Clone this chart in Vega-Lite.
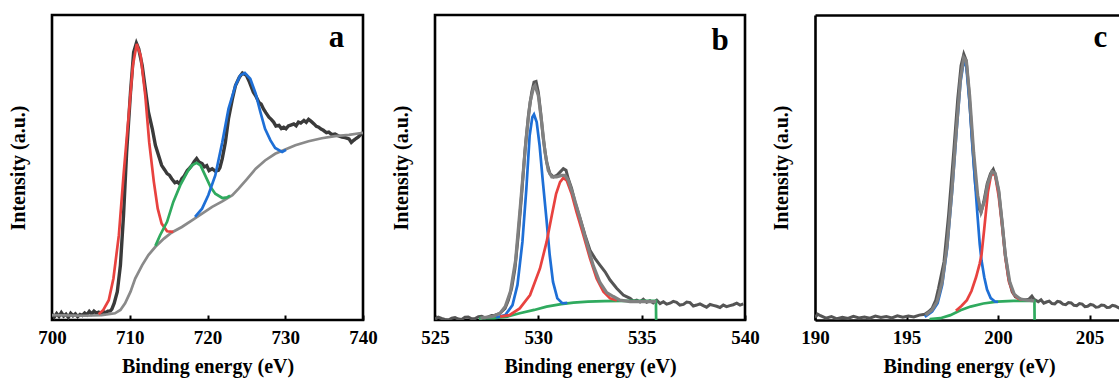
{
  "$schema": "https://vega.github.io/schema/vega-lite/v6.json",
  "padding": {"left": 6, "top": 13, "right": 0, "bottom": 0},
  "spacing": 10,
  "config": {
    "view": {"stroke": "black", "strokeWidth": 2.6},
    "font": "Liberation Serif",
    "axis": {
      "labelFont": "Liberation Serif", "titleFont": "Liberation Serif",
      "labelFontWeight": "bold", "titleFontWeight": "bold",
      "labelColor": "black", "titleColor": "black",
      "labelFontSize": 19, "titleFontSize": 20, "grid": false
    }
  },
  "resolve": {"scale": {"color": "independent"}},
  "datasets": {
    "labels": [
      {"panel": "a", "e": 736.6, "v": 89.5},
      {"panel": "b", "e": 538.8, "v": 88.4},
      {"panel": "c", "e": 205.6, "v": 89.5}
    ],
    "a": [
      {"e":700.0,"v":1.9,"curve":"raw"},{"e":700.3,"v":1.0,"curve":"raw"},{"e":700.6,"v":2.1,"curve":"raw"},{"e":700.9,"v":1.2,"curve":"raw"},{"e":701.2,"v":2.4,"curve":"raw"},{"e":701.5,"v":1.3,"curve":"raw"},{"e":701.8,"v":1.9,"curve":"raw"},{"e":702.1,"v":0.9,"curve":"raw"},{"e":702.4,"v":2.2,"curve":"raw"},{"e":702.7,"v":1.4,"curve":"raw"},{"e":703.0,"v":2.0,"curve":"raw"},{"e":703.3,"v":1.1,"curve":"raw"},{"e":703.6,"v":1.8,"curve":"raw"},{"e":703.9,"v":1.5,"curve":"raw"},{"e":704.2,"v":2.3,"curve":"raw"},{"e":704.5,"v":1.7,"curve":"raw"},{"e":704.8,"v":2.8,"curve":"raw"},{"e":705.1,"v":2.0,"curve":"raw"},{"e":705.4,"v":2.9,"curve":"raw"},{"e":705.7,"v":2.3,"curve":"raw"},{"e":706.0,"v":2.6,"curve":"raw"},{"e":706.3,"v":2.0,"curve":"raw"},{"e":706.6,"v":2.7,"curve":"raw"},{"e":706.9,"v":2.4,"curve":"raw"},{"e":707.2,"v":2.9,"curve":"raw"},{"e":707.5,"v":3.0,"curve":"raw"},{"e":707.7,"v":3.6,"curve":"raw"},{"e":708.0,"v":5.5,"curve":"raw"},{"e":708.4,"v":9.3,"curve":"raw"},{"e":708.8,"v":18,"curve":"raw"},{"e":709.2,"v":34.4,"curve":"raw"},{"e":709.6,"v":55,"curve":"raw"},{"e":710.1,"v":74.7,"curve":"raw"},{"e":710.5,"v":87.8,"curve":"raw"},{"e":710.85,"v":90.8,"curve":"raw"},{"e":711.15,"v":88.9,"curve":"raw"},{"e":711.6,"v":83.4,"curve":"raw"},{"e":712.0,"v":75.8,"curve":"raw"},{"e":712.4,"v":68.2,"curve":"raw"},{"e":712.9,"v":62.7,"curve":"raw"},{"e":713.3,"v":57.3,"curve":"raw"},{"e":713.7,"v":54,"curve":"raw"},{"e":714.1,"v":50.7,"curve":"raw"},{"e":714.5,"v":49.2,"curve":"raw"},{"e":714.8,"v":48,"curve":"raw"},{"e":715.1,"v":47.5,"curve":"raw"},{"e":715.4,"v":46.3,"curve":"raw"},{"e":715.8,"v":45.0,"curve":"raw"},{"e":716.1,"v":45.3,"curve":"raw"},{"e":716.4,"v":44.6,"curve":"raw"},{"e":716.7,"v":46.3,"curve":"raw"},{"e":717.0,"v":47.2,"curve":"raw"},{"e":717.4,"v":49,"curve":"raw"},{"e":717.7,"v":49.8,"curve":"raw"},{"e":718.0,"v":50.7,"curve":"raw"},{"e":718.3,"v":52.0,"curve":"raw"},{"e":718.6,"v":52.9,"curve":"raw"},{"e":718.9,"v":51.8,"curve":"raw"},{"e":719.3,"v":51.3,"curve":"raw"},{"e":719.6,"v":50.2,"curve":"raw"},{"e":719.9,"v":50.6,"curve":"raw"},{"e":720.2,"v":49.0,"curve":"raw"},{"e":720.6,"v":49.6,"curve":"raw"},{"e":721.0,"v":48.8,"curve":"raw"},{"e":721.4,"v":49.1,"curve":"raw"},{"e":721.6,"v":50.0,"curve":"raw"},{"e":721.9,"v":52.9,"curve":"raw"},{"e":722.3,"v":58.3,"curve":"raw"},{"e":722.7,"v":66,"curve":"raw"},{"e":723.2,"v":72.5,"curve":"raw"},{"e":723.6,"v":76.9,"curve":"raw"},{"e":724.1,"v":79.6,"curve":"raw"},{"e":724.5,"v":81,"curve":"raw"},{"e":725.0,"v":80.2,"curve":"raw"},{"e":725.4,"v":78,"curve":"raw"},{"e":725.9,"v":74.7,"curve":"raw"},{"e":726.2,"v":73.5,"curve":"raw"},{"e":726.6,"v":71.4,"curve":"raw"},{"e":726.9,"v":70.8,"curve":"raw"},{"e":727.2,"v":69.2,"curve":"raw"},{"e":727.5,"v":68.0,"curve":"raw"},{"e":727.9,"v":66.5,"curve":"raw"},{"e":728.2,"v":65.8,"curve":"raw"},{"e":728.5,"v":64.9,"curve":"raw"},{"e":728.8,"v":63.6,"curve":"raw"},{"e":729.2,"v":63.8,"curve":"raw"},{"e":729.5,"v":62.8,"curve":"raw"},{"e":729.8,"v":63.2,"curve":"raw"},{"e":730.1,"v":62.7,"curve":"raw"},{"e":730.4,"v":63.6,"curve":"raw"},{"e":730.8,"v":64.0,"curve":"raw"},{"e":731.1,"v":64.3,"curve":"raw"},{"e":731.4,"v":63.7,"curve":"raw"},{"e":731.7,"v":64.9,"curve":"raw"},{"e":732.0,"v":64.6,"curve":"raw"},{"e":732.4,"v":65.4,"curve":"raw"},{"e":732.7,"v":64.8,"curve":"raw"},{"e":733.0,"v":65.8,"curve":"raw"},{"e":733.3,"v":65.2,"curve":"raw"},{"e":733.7,"v":64.3,"curve":"raw"},{"e":734.0,"v":63.5,"curve":"raw"},{"e":734.3,"v":63.2,"curve":"raw"},{"e":734.6,"v":62.6,"curve":"raw"},{"e":734.9,"v":62.2,"curve":"raw"},{"e":735.3,"v":61.4,"curve":"raw"},{"e":735.6,"v":61.6,"curve":"raw"},{"e":736.0,"v":60.8,"curve":"raw"},{"e":736.4,"v":61,"curve":"raw"},{"e":736.8,"v":60.4,"curve":"raw"},{"e":737.3,"v":60,"curve":"raw"},{"e":737.7,"v":59.8,"curve":"raw"},{"e":738.2,"v":59.4,"curve":"raw"},{"e":738.5,"v":58.2,"curve":"raw"},{"e":738.8,"v":58.9,"curve":"raw"},{"e":739.1,"v":59.5,"curve":"raw"},{"e":739.4,"v":60,"curve":"raw"},{"e":739.7,"v":60.8,"curve":"raw"},{"e":740.0,"v":61.4,"curve":"raw"},
      {"e":700,"v":1.6,"curve":"background"},{"e":704.3,"v":1.4,"curve":"background"},{"e":706.4,"v":1.6,"curve":"background"},{"e":708.1,"v":2.2,"curve":"background"},{"e":708.8,"v":3.3,"curve":"background"},{"e":709.4,"v":5.5,"curve":"background"},{"e":710.1,"v":9.3,"curve":"background"},{"e":710.7,"v":13.6,"curve":"background"},{"e":711.6,"v":18,"curve":"background"},{"e":712.4,"v":21.3,"curve":"background"},{"e":713.3,"v":24,"curve":"background"},{"e":714.4,"v":26.7,"curve":"background"},{"e":715.4,"v":28.7,"curve":"background"},{"e":716.7,"v":30.5,"curve":"background"},{"e":718.0,"v":32.7,"curve":"background"},{"e":719.3,"v":34.9,"curve":"background"},{"e":720.6,"v":37.1,"curve":"background"},{"e":721.9,"v":38.9,"curve":"background"},{"e":723.2,"v":40.9,"curve":"background"},{"e":724.0,"v":43.1,"curve":"background"},{"e":725.1,"v":46.3,"curve":"background"},{"e":726.2,"v":49.6,"curve":"background"},{"e":727.4,"v":52.3,"curve":"background"},{"e":728.7,"v":54.5,"curve":"background"},{"e":730.0,"v":55.9,"curve":"background"},{"e":731.3,"v":57.3,"curve":"background"},{"e":733.0,"v":58.6,"curve":"background"},{"e":734.7,"v":59.6,"curve":"background"},{"e":736.4,"v":60.3,"curve":"background"},{"e":738.2,"v":60.7,"curve":"background"},{"e":740,"v":61.4,"curve":"background"},
      {"e":706.0,"v":1.9,"curve":"peak 1"},{"e":706.6,"v":3.3,"curve":"peak 1"},{"e":707.3,"v":6.5,"curve":"peak 1"},{"e":707.9,"v":13.6,"curve":"peak 1"},{"e":708.6,"v":27.8,"curve":"peak 1"},{"e":709.2,"v":47.4,"curve":"peak 1"},{"e":709.9,"v":68.2,"curve":"peak 1"},{"e":710.4,"v":83.4,"curve":"peak 1"},{"e":710.9,"v":90.5,"curve":"peak 1"},{"e":711.4,"v":86.7,"curve":"peak 1"},{"e":712.0,"v":73.6,"curve":"peak 1"},{"e":712.5,"v":58.3,"curve":"peak 1"},{"e":713.1,"v":45.3,"curve":"peak 1"},{"e":713.6,"v":36.5,"curve":"peak 1"},{"e":714.1,"v":31.6,"curve":"peak 1"},{"e":714.8,"v":29.1,"curve":"peak 1"},{"e":715.6,"v":28.9,"curve":"peak 1"},
      {"e":713.3,"v":24.3,"curve":"peak 2"},{"e":713.9,"v":27.8,"curve":"peak 2"},{"e":714.8,"v":32.2,"curve":"peak 2"},{"e":715.6,"v":38.7,"curve":"peak 2"},{"e":716.5,"v":44.2,"curve":"peak 2"},{"e":717.4,"v":48.5,"curve":"peak 2"},{"e":718.0,"v":50.7,"curve":"peak 2"},{"e":718.6,"v":51.5,"curve":"peak 2"},{"e":719.1,"v":50.7,"curve":"peak 2"},{"e":719.7,"v":47.4,"curve":"peak 2"},{"e":720.4,"v":43.6,"curve":"peak 2"},{"e":721.0,"v":41.4,"curve":"peak 2"},{"e":721.9,"v":40.0,"curve":"peak 2"},{"e":722.5,"v":40.2,"curve":"peak 2"},{"e":722.9,"v":40.8,"curve":"peak 2"},
      {"e":718.4,"v":33.8,"curve":"peak 3"},{"e":719.3,"v":36.5,"curve":"peak 3"},{"e":720.1,"v":40.9,"curve":"peak 3"},{"e":721.0,"v":47.4,"curve":"peak 3"},{"e":721.9,"v":58.3,"curve":"peak 3"},{"e":722.7,"v":69.2,"curve":"peak 3"},{"e":723.6,"v":76.9,"curve":"peak 3"},{"e":724.2,"v":80.2,"curve":"peak 3"},{"e":724.8,"v":81,"curve":"peak 3"},{"e":725.5,"v":79.1,"curve":"peak 3"},{"e":726.2,"v":74.2,"curve":"peak 3"},{"e":726.8,"v":68.2,"curve":"peak 3"},{"e":727.4,"v":62.7,"curve":"peak 3"},{"e":728.1,"v":58.9,"curve":"peak 3"},{"e":728.7,"v":56.4,"curve":"peak 3"},{"e":729.6,"v":55.1,"curve":"peak 3"},{"e":730.1,"v":55.8,"curve":"peak 3"}
    ],
    "b": [
      {"e":525.0,"v":0.3,"curve":"raw"},{"e":525.16,"v":0.9,"curve":"raw"},{"e":525.32,"v":0.5,"curve":"raw"},{"e":525.48,"v":0.2,"curve":"raw"},{"e":525.65,"v":0.0,"curve":"raw"},{"e":525.81,"v":0.6,"curve":"raw"},{"e":525.97,"v":0.8,"curve":"raw"},{"e":526.13,"v":0.3,"curve":"raw"},{"e":526.29,"v":0.2,"curve":"raw"},{"e":526.45,"v":0.9,"curve":"raw"},{"e":526.61,"v":1.0,"curve":"raw"},{"e":526.77,"v":0.4,"curve":"raw"},{"e":526.94,"v":0.5,"curve":"raw"},{"e":527.1,"v":1.1,"curve":"raw"},{"e":527.26,"v":1.2,"curve":"raw"},{"e":527.42,"v":0.7,"curve":"raw"},{"e":527.58,"v":1.0,"curve":"raw"},{"e":527.74,"v":1.5,"curve":"raw"},{"e":527.9,"v":1.6,"curve":"raw"},{"e":528.15,"v":2.2,"curve":"raw"},{"e":528.39,"v":3.8,"curve":"raw"},{"e":528.55,"v":6.5,"curve":"raw"},{"e":528.71,"v":10.4,"curve":"raw"},{"e":528.87,"v":16.9,"curve":"raw"},{"e":529.03,"v":27.8,"curve":"raw"},{"e":529.19,"v":40.9,"curve":"raw"},{"e":529.35,"v":55.1,"curve":"raw"},{"e":529.52,"v":67.1,"curve":"raw"},{"e":529.68,"v":74.7,"curve":"raw"},{"e":529.79,"v":78,"curve":"raw"},{"e":529.89,"v":78.2,"curve":"raw"},{"e":530.0,"v":74.7,"curve":"raw"},{"e":530.11,"v":68.2,"curve":"raw"},{"e":530.24,"v":59.4,"curve":"raw"},{"e":530.4,"v":51.8,"curve":"raw"},{"e":530.56,"v":48,"curve":"raw"},{"e":530.73,"v":46.9,"curve":"raw"},{"e":530.89,"v":47.4,"curve":"raw"},{"e":531.05,"v":48.5,"curve":"raw"},{"e":531.21,"v":49.6,"curve":"raw"},{"e":531.34,"v":49.1,"curve":"raw"},{"e":531.45,"v":46.3,"curve":"raw"},{"e":531.61,"v":43.1,"curve":"raw"},{"e":531.77,"v":38.7,"curve":"raw"},{"e":532.02,"v":33.3,"curve":"raw"},{"e":532.26,"v":27.8,"curve":"raw"},{"e":532.5,"v":22.9,"curve":"raw"},{"e":532.74,"v":20.2,"curve":"raw"},{"e":532.98,"v":18,"curve":"raw"},{"e":533.23,"v":15.8,"curve":"raw"},{"e":533.47,"v":13.1,"curve":"raw"},{"e":533.79,"v":10.4,"curve":"raw"},{"e":534.11,"v":8.2,"curve":"raw"},{"e":534.44,"v":7.1,"curve":"raw"},{"e":534.6,"v":6.2,"curve":"raw"},{"e":534.76,"v":6.5,"curve":"raw"},{"e":534.92,"v":5.9,"curve":"raw"},{"e":535.08,"v":6.8,"curve":"raw"},{"e":535.24,"v":5.8,"curve":"raw"},{"e":535.4,"v":6.3,"curve":"raw"},{"e":535.56,"v":5.6,"curve":"raw"},{"e":535.73,"v":6.5,"curve":"raw"},{"e":535.89,"v":5.4,"curve":"raw"},{"e":536.05,"v":6.0,"curve":"raw"},{"e":536.21,"v":5.2,"curve":"raw"},{"e":536.37,"v":5.5,"curve":"raw"},{"e":536.53,"v":6.1,"curve":"raw"},{"e":536.69,"v":5.8,"curve":"raw"},{"e":536.85,"v":4.9,"curve":"raw"},{"e":537.02,"v":5.1,"curve":"raw"},{"e":537.18,"v":5.9,"curve":"raw"},{"e":537.34,"v":5.7,"curve":"raw"},{"e":537.5,"v":4.6,"curve":"raw"},{"e":537.66,"v":4.9,"curve":"raw"},{"e":537.82,"v":5.3,"curve":"raw"},{"e":537.98,"v":4.7,"curve":"raw"},{"e":538.14,"v":4.2,"curve":"raw"},{"e":538.31,"v":5.1,"curve":"raw"},{"e":538.47,"v":4.8,"curve":"raw"},{"e":538.63,"v":4.5,"curve":"raw"},{"e":538.79,"v":4.1,"curve":"raw"},{"e":538.95,"v":4.9,"curve":"raw"},{"e":539.11,"v":4.4,"curve":"raw"},{"e":539.27,"v":4.7,"curve":"raw"},{"e":539.43,"v":5.0,"curve":"raw"},{"e":539.6,"v":5.5,"curve":"raw"},{"e":539.76,"v":4.9,"curve":"raw"},{"e":539.92,"v":5.3,"curve":"raw"},
      {"e":527.18,"v":0.0,"curve":"background"},{"e":527.2,"v":0.6,"curve":"background"},{"e":527.85,"v":0.6,"curve":"background"},{"e":528.5,"v":1.1,"curve":"background"},{"e":529.1,"v":2.2,"curve":"background"},{"e":529.8,"v":3.3,"curve":"background"},{"e":530.4,"v":4.4,"curve":"background"},{"e":531.1,"v":5.2,"curve":"background"},{"e":531.7,"v":5.7,"curve":"background"},{"e":532.4,"v":6.0,"curve":"background"},{"e":533.2,"v":6.2,"curve":"background"},{"e":534.2,"v":6.3,"curve":"background"},{"e":535.2,"v":6.3,"curve":"background"},{"e":535.69,"v":6.3,"curve":"background"},{"e":535.7,"v":0.0,"curve":"background"},
      {"e":527.95,"v":0.8,"curve":"peak 1"},{"e":528.4,"v":1.6,"curve":"peak 1"},{"e":528.75,"v":4.9,"curve":"peak 1"},{"e":528.99,"v":11.5,"curve":"peak 1"},{"e":529.23,"v":25.6,"curve":"peak 1"},{"e":529.42,"v":43,"curve":"peak 1"},{"e":529.58,"v":60.5,"curve":"peak 1"},{"e":529.71,"v":66.5,"curve":"peak 1"},{"e":529.79,"v":67.4,"curve":"peak 1"},{"e":529.92,"v":64.9,"curve":"peak 1"},{"e":530.06,"v":57.3,"curve":"peak 1"},{"e":530.22,"v":45.3,"curve":"peak 1"},{"e":530.39,"v":33.3,"curve":"peak 1"},{"e":530.55,"v":21.3,"curve":"peak 1"},{"e":530.71,"v":12.5,"curve":"peak 1"},{"e":530.92,"v":7.1,"curve":"peak 1"},{"e":531.16,"v":5.5,"curve":"peak 1"},{"e":531.4,"v":5.6,"curve":"peak 1"},
      {"e":528.15,"v":1.1,"curve":"peak 2"},{"e":528.6,"v":1.6,"curve":"peak 2"},{"e":529.1,"v":3.8,"curve":"peak 2"},{"e":529.6,"v":8.2,"curve":"peak 2"},{"e":530.08,"v":16.9,"curve":"peak 2"},{"e":530.4,"v":25.6,"curve":"peak 2"},{"e":530.65,"v":34.3,"curve":"peak 2"},{"e":530.86,"v":41.4,"curve":"peak 2"},{"e":531.05,"v":45.2,"curve":"peak 2"},{"e":531.21,"v":46.6,"curve":"peak 2"},{"e":531.37,"v":45.8,"curve":"peak 2"},{"e":531.61,"v":41.4,"curve":"peak 2"},{"e":531.85,"v":35.4,"curve":"peak 2"},{"e":532.18,"v":27.8,"curve":"peak 2"},{"e":532.5,"v":20.2,"curve":"peak 2"},{"e":532.82,"v":13.6,"curve":"peak 2"},{"e":533.15,"v":9.3,"curve":"peak 2"},{"e":533.47,"v":7.1,"curve":"peak 2"},{"e":533.8,"v":6.4,"curve":"peak 2"},
      {"e":527.2,"v":0.6,"curve":"envelope"},{"e":527.8,"v":1.2,"curve":"envelope"},{"e":528.15,"v":2.2,"curve":"envelope"},{"e":528.4,"v":4.4,"curve":"envelope"},{"e":528.65,"v":9.3,"curve":"envelope"},{"e":528.9,"v":19.6,"curve":"envelope"},{"e":529.15,"v":39,"curve":"envelope"},{"e":529.4,"v":58.9,"curve":"envelope"},{"e":529.6,"v":71.4,"curve":"envelope"},{"e":529.77,"v":76.3,"curve":"envelope"},{"e":529.84,"v":76.9,"curve":"envelope"},{"e":530.0,"v":73.6,"curve":"envelope"},{"e":530.16,"v":64.9,"curve":"envelope"},{"e":530.32,"v":55.1,"curve":"envelope"},{"e":530.48,"v":49,"curve":"envelope"},{"e":530.65,"v":46.9,"curve":"envelope"},{"e":530.89,"v":46.9,"curve":"envelope"},{"e":531.13,"v":47.4,"curve":"envelope"},{"e":531.29,"v":47.4,"curve":"envelope"},{"e":531.45,"v":45.8,"curve":"envelope"},{"e":531.69,"v":40.9,"curve":"envelope"},{"e":532.02,"v":33.3,"curve":"envelope"},{"e":532.34,"v":25.4,"curve":"envelope"},{"e":532.66,"v":17.8,"curve":"envelope"},{"e":532.98,"v":12.3,"curve":"envelope"},{"e":533.31,"v":9.0,"curve":"envelope"},{"e":533.63,"v":7.7,"curve":"envelope"},{"e":533.95,"v":6.5,"curve":"envelope"},{"e":534.44,"v":6.0,"curve":"envelope"},{"e":534.9,"v":6.0,"curve":"envelope"},{"e":535.4,"v":6.0,"curve":"envelope"},{"e":535.7,"v":6.0,"curve":"envelope"}
    ],
    "c": [
      {"e":190.0,"v":0.8,"curve":"raw"},{"e":190.15,"v":1.9,"curve":"raw"},{"e":190.3,"v":1.4,"curve":"raw"},{"e":190.6,"v":0.6,"curve":"raw"},{"e":190.9,"v":1.1,"curve":"raw"},{"e":191.2,"v":0.4,"curve":"raw"},{"e":191.5,"v":0.9,"curve":"raw"},{"e":191.8,"v":0.5,"curve":"raw"},{"e":192.1,"v":1.2,"curve":"raw"},{"e":192.4,"v":0.7,"curve":"raw"},{"e":192.7,"v":1.0,"curve":"raw"},{"e":193.0,"v":0.6,"curve":"raw"},{"e":193.3,"v":1.3,"curve":"raw"},{"e":193.6,"v":0.8,"curve":"raw"},{"e":193.9,"v":1.1,"curve":"raw"},{"e":194.2,"v":0.7,"curve":"raw"},{"e":194.5,"v":1.4,"curve":"raw"},{"e":194.8,"v":0.9,"curve":"raw"},{"e":195.1,"v":1.3,"curve":"raw"},{"e":195.4,"v":1.0,"curve":"raw"},{"e":195.7,"v":1.6,"curve":"raw"},{"e":196.0,"v":1.9,"curve":"raw"},{"e":196.2,"v":2.7,"curve":"raw"},{"e":196.4,"v":3.8,"curve":"raw"},{"e":196.6,"v":6.5,"curve":"raw"},{"e":196.75,"v":10.4,"curve":"raw"},{"e":197.05,"v":19.1,"curve":"raw"},{"e":197.3,"v":34.4,"curve":"raw"},{"e":197.58,"v":55.1,"curve":"raw"},{"e":197.8,"v":72.5,"curve":"raw"},{"e":197.98,"v":83.4,"curve":"raw"},{"e":198.13,"v":87.2,"curve":"raw"},{"e":198.26,"v":85.1,"curve":"raw"},{"e":198.4,"v":75.8,"curve":"raw"},{"e":198.59,"v":59.4,"curve":"raw"},{"e":198.77,"v":44.2,"curve":"raw"},{"e":198.96,"v":36.5,"curve":"raw"},{"e":199.08,"v":35.4,"curve":"raw"},{"e":199.22,"v":38.7,"curve":"raw"},{"e":199.41,"v":44.7,"curve":"raw"},{"e":199.59,"v":48,"curve":"raw"},{"e":199.74,"v":49.4,"curve":"raw"},{"e":199.86,"v":47.4,"curve":"raw"},{"e":200.04,"v":42.0,"curve":"raw"},{"e":200.22,"v":32.2,"curve":"raw"},{"e":200.4,"v":21.3,"curve":"raw"},{"e":200.58,"v":13.6,"curve":"raw"},{"e":200.77,"v":9.3,"curve":"raw"},{"e":200.95,"v":7.6,"curve":"raw"},{"e":201.13,"v":7.1,"curve":"raw"},{"e":201.4,"v":6.5,"curve":"raw"},{"e":201.68,"v":6.8,"curve":"raw"},{"e":201.85,"v":7.8,"curve":"raw"},{"e":201.95,"v":6.9,"curve":"raw"},{"e":202.2,"v":6.0,"curve":"raw"},{"e":202.35,"v":6.6,"curve":"raw"},{"e":202.5,"v":5.5,"curve":"raw"},{"e":202.65,"v":5.9,"curve":"raw"},{"e":202.8,"v":6.2,"curve":"raw"},{"e":202.95,"v":5.4,"curve":"raw"},{"e":203.1,"v":5.3,"curve":"raw"},{"e":203.25,"v":6.1,"curve":"raw"},{"e":203.4,"v":5.9,"curve":"raw"},{"e":203.55,"v":5.2,"curve":"raw"},{"e":203.7,"v":5.0,"curve":"raw"},{"e":203.85,"v":5.7,"curve":"raw"},{"e":204.0,"v":5.6,"curve":"raw"},{"e":204.15,"v":4.8,"curve":"raw"},{"e":204.3,"v":4.7,"curve":"raw"},{"e":204.45,"v":5.4,"curve":"raw"},{"e":204.6,"v":5.2,"curve":"raw"},{"e":204.75,"v":4.4,"curve":"raw"},{"e":204.9,"v":4.5,"curve":"raw"},{"e":205.05,"v":5.1,"curve":"raw"},{"e":205.2,"v":4.9,"curve":"raw"},{"e":205.35,"v":4.2,"curve":"raw"},{"e":205.5,"v":4.3,"curve":"raw"},{"e":205.65,"v":4.9,"curve":"raw"},{"e":205.8,"v":4.8,"curve":"raw"},{"e":205.95,"v":4.1,"curve":"raw"},{"e":206.1,"v":4.2,"curve":"raw"},{"e":206.25,"v":4.8,"curve":"raw"},{"e":206.4,"v":4.6,"curve":"raw"},{"e":206.6,"v":4.0,"curve":"raw"},{"e":206.83,"v":4.4,"curve":"raw"},
      {"e":196.3,"v":0.0,"curve":"background"},{"e":196.32,"v":0.3,"curve":"background"},{"e":196.85,"v":0.6,"curve":"background"},{"e":197.4,"v":1.6,"curve":"background"},{"e":197.95,"v":3.2,"curve":"background"},{"e":198.5,"v":4.4,"curve":"background"},{"e":199.2,"v":5.4,"curve":"background"},{"e":199.95,"v":6.0,"curve":"background"},{"e":200.85,"v":6.3,"curve":"background"},{"e":201.99,"v":6.3,"curve":"background"},{"e":202.0,"v":0.0,"curve":"background"},
      {"e":196.0,"v":1.0,"curve":"peak 1"},{"e":196.4,"v":2.8,"curve":"peak 1"},{"e":196.7,"v":5.5,"curve":"peak 1"},{"e":196.95,"v":11.5,"curve":"peak 1"},{"e":197.22,"v":23.5,"curve":"peak 1"},{"e":197.49,"v":42,"curve":"peak 1"},{"e":197.73,"v":61.5,"curve":"peak 1"},{"e":197.95,"v":78,"curve":"peak 1"},{"e":198.13,"v":85,"curve":"peak 1"},{"e":198.27,"v":83,"curve":"peak 1"},{"e":198.45,"v":71,"curve":"peak 1"},{"e":198.6,"v":57,"curve":"peak 1"},{"e":198.75,"v":45,"curve":"peak 1"},{"e":198.87,"v":35,"curve":"peak 1"},{"e":199.0,"v":25,"curve":"peak 1"},{"e":199.1,"v":19.5,"curve":"peak 1"},{"e":199.25,"v":14,"curve":"peak 1"},{"e":199.4,"v":10,"curve":"peak 1"},{"e":199.6,"v":7.2,"curve":"peak 1"},{"e":199.85,"v":6.0,"curve":"peak 1"},{"e":200.0,"v":5.9,"curve":"peak 1"},
      {"e":197.7,"v":3.0,"curve":"peak 2"},{"e":198.0,"v":4.6,"curve":"peak 2"},{"e":198.3,"v":6.5,"curve":"peak 2"},{"e":198.55,"v":9.5,"curve":"peak 2"},{"e":198.8,"v":14,"curve":"peak 2"},{"e":199.0,"v":18.5,"curve":"peak 2"},{"e":199.1,"v":21.5,"curve":"peak 2"},{"e":199.25,"v":30,"curve":"peak 2"},{"e":199.45,"v":42,"curve":"peak 2"},{"e":199.6,"v":47,"curve":"peak 2"},{"e":199.72,"v":48.3,"curve":"peak 2"},{"e":199.85,"v":47.2,"curve":"peak 2"},{"e":200.04,"v":40.5,"curve":"peak 2"},{"e":200.22,"v":31,"curve":"peak 2"},{"e":200.4,"v":20.5,"curve":"peak 2"},{"e":200.6,"v":12.5,"curve":"peak 2"},{"e":200.85,"v":8.5,"curve":"peak 2"},{"e":201.1,"v":7.0,"curve":"peak 2"},{"e":201.3,"v":6.6,"curve":"peak 2"},
      {"e":196.04,"v":1.6,"curve":"envelope"},{"e":196.4,"v":3.3,"curve":"envelope"},{"e":196.67,"v":6.0,"curve":"envelope"},{"e":196.95,"v":12.5,"curve":"envelope"},{"e":197.22,"v":24.5,"curve":"envelope"},{"e":197.49,"v":43,"curve":"envelope"},{"e":197.73,"v":62.7,"curve":"envelope"},{"e":197.95,"v":79,"curve":"envelope"},{"e":198.13,"v":86.1,"curve":"envelope"},{"e":198.27,"v":85,"curve":"envelope"},{"e":198.45,"v":73.6,"curve":"envelope"},{"e":198.67,"v":55,"curve":"envelope"},{"e":198.89,"v":40.9,"curve":"envelope"},{"e":199.07,"v":35.4,"curve":"envelope"},{"e":199.25,"v":38.7,"curve":"envelope"},{"e":199.44,"v":44.7,"curve":"envelope"},{"e":199.67,"v":48.7,"curve":"envelope"},{"e":199.85,"v":48,"curve":"envelope"},{"e":200.04,"v":42.5,"curve":"envelope"},{"e":200.22,"v":32.2,"curve":"envelope"},{"e":200.4,"v":21.3,"curve":"envelope"},{"e":200.64,"v":12.5,"curve":"envelope"},{"e":200.89,"v":8.4,"curve":"envelope"},{"e":201.22,"v":6.9,"curve":"envelope"},{"e":201.58,"v":6.5,"curve":"envelope"},{"e":201.98,"v":6.3,"curve":"envelope"}
    ]
  },
  "hconcat": [
    {
      "width": 311, "height": 305,
      "layer": [
        {
          "data": {"name": "a"},
          "transform": [{"filter": "datum.curve === 'raw'"}],
          "mark": {"type": "line", "strokeWidth": 3.4, "color": "#3a3a3a", "clip": true},
          "encoding": {
            "x": {"field": "e", "type": "quantitative", "scale": {"domain": [700, 740], "nice": false, "zero": false},
                  "axis": {"values": [700, 710, 720, 730, 740], "title": "Binding energy (eV)", "domain": false, "tickSize": -5, "tickWidth": 2, "tickColor": "black", "labelPadding": 13, "labelFlush": false, "labelOverlap": false, "labelFontWeight": "bold", "titlePadding": 9}},
            "y": {"field": "v", "type": "quantitative", "scale": {"domain": [0, 100], "nice": false},
                  "axis": {"title": "Intensity (a.u.)", "labels": false, "ticks": false, "domain": false, "titlePadding": 24}}
          }
        },
        {
          "data": {"name": "a"},
          "transform": [{"filter": "datum.curve !== 'raw'"}],
          "mark": {"type": "line", "strokeWidth": 2.7, "clip": true},
          "encoding": {
            "x": {"field": "e", "type": "quantitative", "scale": {"domain": [700, 740], "nice": false, "zero": false},
                  "axis": {"values": [700, 710, 720, 730, 740], "title": "Binding energy (eV)", "domain": false, "tickSize": -5, "tickWidth": 2, "tickColor": "black", "labelPadding": 13, "labelFlush": false, "labelOverlap": false, "labelFontWeight": "bold", "titlePadding": 9}},
            "y": {"field": "v", "type": "quantitative", "scale": {"domain": [0, 100], "nice": false},
                  "axis": {"title": "Intensity (a.u.)", "labels": false, "ticks": false, "domain": false, "titlePadding": 24}},
            "color": {"field": "curve", "type": "nominal", "legend": null,
                      "scale": {"domain": ["background", "peak 1", "peak 2", "peak 3"], "range": ["#8a8a8a", "#e8423f", "#2faa5e", "#1e6fd6"]}}
          }
        },
        {
          "data": {"name": "labels"},
          "transform": [{"filter": "datum.panel === 'a'"}],
          "mark": {"type": "text", "font": "Liberation Serif", "fontSize": 31, "fontWeight": "bold", "baseline": "alphabetic", "align": "center", "color": "black"},
          "encoding": {
            "x": {"field": "e", "type": "quantitative", "scale": {"domain": [700, 740], "nice": false, "zero": false},
                  "axis": {"values": [700, 710, 720, 730, 740], "title": "Binding energy (eV)", "domain": false, "tickSize": -5, "tickWidth": 2, "tickColor": "black", "labelPadding": 13, "labelFlush": false, "labelOverlap": false, "labelFontWeight": "bold", "titlePadding": 9}},
            "y": {"field": "v", "type": "quantitative", "scale": {"domain": [0, 100], "nice": false},
                  "axis": {"title": "Intensity (a.u.)", "labels": false, "ticks": false, "domain": false, "titlePadding": 24}},
            "text": {"field": "panel"}
          }
        }
      ]
    },
    {
      "width": 310, "height": 305,
      "layer": [
        {
          "data": {"name": "b"},
          "transform": [{"filter": "datum.curve === 'raw'"}],
          "mark": {"type": "line", "strokeWidth": 3, "color": "#555555", "clip": true},
          "encoding": {
            "x": {"field": "e", "type": "quantitative", "scale": {"domain": [525, 540], "nice": false, "zero": false},
                  "axis": {"values": [525, 530, 535, 540], "title": "Binding energy (eV)", "domain": false, "tickSize": -5, "tickWidth": 2, "tickColor": "black", "labelPadding": 13, "labelFlush": false, "labelOverlap": false, "labelFontWeight": "bold", "titlePadding": 9}},
            "y": {"field": "v", "type": "quantitative", "scale": {"domain": [0, 100], "nice": false},
                  "axis": {"title": "Intensity (a.u.)", "labels": false, "ticks": false, "domain": false, "titlePadding": 24}}
          }
        },
        {
          "data": {"name": "b"},
          "transform": [{"filter": "datum.curve !== 'raw' && datum.curve !== 'envelope'"}],
          "mark": {"type": "line", "strokeWidth": 2.7, "clip": true},
          "encoding": {
            "x": {"field": "e", "type": "quantitative", "scale": {"domain": [525, 540], "nice": false, "zero": false},
                  "axis": {"values": [525, 530, 535, 540], "title": "Binding energy (eV)", "domain": false, "tickSize": -5, "tickWidth": 2, "tickColor": "black", "labelPadding": 13, "labelFlush": false, "labelOverlap": false, "labelFontWeight": "bold", "titlePadding": 9}},
            "y": {"field": "v", "type": "quantitative", "scale": {"domain": [0, 100], "nice": false},
                  "axis": {"title": "Intensity (a.u.)", "labels": false, "ticks": false, "domain": false, "titlePadding": 24}},
            "color": {"field": "curve", "type": "nominal", "legend": null,
                      "scale": {"domain": ["background", "peak 1", "peak 2"], "range": ["#2faa5e", "#1e6fd6", "#e8423f"]}}
          }
        },
        {
          "data": {"name": "b"},
          "transform": [{"filter": "datum.curve === 'envelope'"}],
          "mark": {"type": "line", "strokeWidth": 3.2, "color": "#808080", "clip": true},
          "encoding": {
            "x": {"field": "e", "type": "quantitative", "scale": {"domain": [525, 540], "nice": false, "zero": false},
                  "axis": {"values": [525, 530, 535, 540], "title": "Binding energy (eV)", "domain": false, "tickSize": -5, "tickWidth": 2, "tickColor": "black", "labelPadding": 13, "labelFlush": false, "labelOverlap": false, "labelFontWeight": "bold", "titlePadding": 9}},
            "y": {"field": "v", "type": "quantitative", "scale": {"domain": [0, 100], "nice": false},
                  "axis": {"title": "Intensity (a.u.)", "labels": false, "ticks": false, "domain": false, "titlePadding": 24}}
          }
        },
        {
          "data": {"name": "labels"},
          "transform": [{"filter": "datum.panel === 'b'"}],
          "mark": {"type": "text", "font": "Liberation Serif", "fontSize": 31, "fontWeight": "bold", "baseline": "alphabetic", "align": "center", "color": "black"},
          "encoding": {
            "x": {"field": "e", "type": "quantitative", "scale": {"domain": [525, 540], "nice": false, "zero": false},
                  "axis": {"values": [525, 530, 535, 540], "title": "Binding energy (eV)", "domain": false, "tickSize": -5, "tickWidth": 2, "tickColor": "black", "labelPadding": 13, "labelFlush": false, "labelOverlap": false, "labelFontWeight": "bold", "titlePadding": 9}},
            "y": {"field": "v", "type": "quantitative", "scale": {"domain": [0, 100], "nice": false},
                  "axis": {"title": "Intensity (a.u.)", "labels": false, "ticks": false, "domain": false, "titlePadding": 24}},
            "text": {"field": "panel"}
          }
        }
      ]
    },
    {
      "width": 308, "height": 305,
      "view": {"stroke": null},
      "resolve": {"axis": {"x": "independent"}},
      "layer": [
        {
          "data": {"name": "c"},
          "transform": [{"filter": "datum.curve === 'raw'"}],
          "mark": {"type": "line", "strokeWidth": 3, "color": "#555555", "clip": true},
          "encoding": {
            "x": {"field": "e", "type": "quantitative", "scale": {"domain": [190, 206.83], "nice": false, "zero": false},
                  "axis": {"values": [190, 195, 200, 205], "title": "Binding energy (eV)", "domain": true, "domainColor": "black", "domainWidth": 2.6, "tickSize": -5, "tickWidth": 2, "tickColor": "black", "labelPadding": 13, "labelFlush": false, "labelOverlap": false, "labelFontWeight": "bold", "titlePadding": 9}},
            "y": {"field": "v", "type": "quantitative", "scale": {"domain": [0, 100], "nice": false},
                  "axis": {"title": "Intensity (a.u.)", "labels": false, "ticks": false, "domain": true, "domainColor": "black", "domainWidth": 2.6, "titlePadding": 24}}
          }
        },
        {
          "data": {"name": "c"},
          "transform": [{"filter": "datum.curve !== 'raw' && datum.curve !== 'envelope'"}],
          "mark": {"type": "line", "strokeWidth": 2.7, "clip": true},
          "encoding": {
            "x": {"field": "e", "type": "quantitative", "scale": {"domain": [190, 206.83], "nice": false, "zero": false}, "axis": null},
            "y": {"field": "v", "type": "quantitative", "scale": {"domain": [0, 100], "nice": false},
                  "axis": {"title": "Intensity (a.u.)", "labels": false, "ticks": false, "domain": true, "domainColor": "black", "domainWidth": 2.6, "titlePadding": 24}},
            "color": {"field": "curve", "type": "nominal", "legend": null,
                      "scale": {"domain": ["background", "peak 1", "peak 2"], "range": ["#2faa5e", "#1e6fd6", "#e8423f"]}}
          }
        },
        {
          "data": {"name": "c"},
          "transform": [{"filter": "datum.curve === 'envelope'"}],
          "mark": {"type": "line", "strokeWidth": 3.2, "color": "#808080", "clip": true},
          "encoding": {
            "x": {"field": "e", "type": "quantitative", "scale": {"domain": [190, 206.83], "nice": false, "zero": false}, "axis": null},
            "y": {"field": "v", "type": "quantitative", "scale": {"domain": [0, 100], "nice": false},
                  "axis": {"title": "Intensity (a.u.)", "labels": false, "ticks": false, "domain": true, "domainColor": "black", "domainWidth": 2.6, "titlePadding": 24}}
          }
        },
        {
          "data": {"name": "labels"},
          "transform": [{"filter": "datum.panel === 'c'"}],
          "mark": {"type": "text", "font": "Liberation Serif", "fontSize": 31, "fontWeight": "bold", "baseline": "alphabetic", "align": "center", "color": "black"},
          "encoding": {
            "x": {"field": "e", "type": "quantitative", "scale": {"domain": [190, 206.83], "nice": false, "zero": false},
                  "axis": {"orient": "top", "labels": false, "ticks": false, "title": null, "domain": true, "domainColor": "black", "domainWidth": 2.6}},
            "y": {"field": "v", "type": "quantitative", "scale": {"domain": [0, 100], "nice": false},
                  "axis": {"title": "Intensity (a.u.)", "labels": false, "ticks": false, "domain": true, "domainColor": "black", "domainWidth": 2.6, "titlePadding": 24}},
            "text": {"field": "panel"}
          }
        }
      ]
    }
  ]
}
